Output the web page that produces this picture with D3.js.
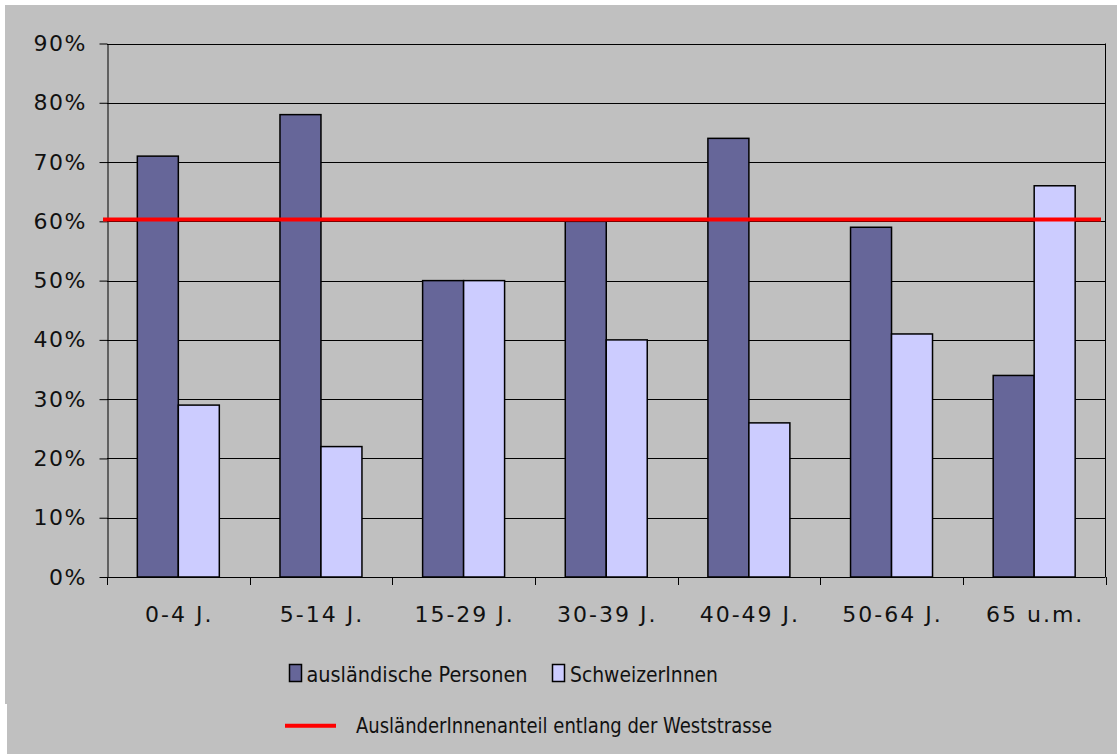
<!DOCTYPE html>
<html>
<head>
<meta charset="utf-8">
<script src="https://cdn.jsdelivr.net/npm/d3@7"></script>
<style>
  body { margin: 0; background: #fff; }
  svg { display: block; font-family: "DejaVu Sans", Verdana, sans-serif; }
</style>
</head>
<body>
<svg id="chart" width="1117" height="754"></svg>
<script>
// age groups
const categories = ["0-4 J.", "5-14 J.", "15-29 J.", "30-39 J.", "40-49 J.", "50-64 J.", "65 u.m."]
// shares in percent
const auslaender = [71, 78, 50, 60, 74, 59, 34]
const schweizer = [29, 22, 50, 40, 26, 41, 66]
const anteilWeststrasse = 60.3
const yTicks = [0, 10, 20, 30, 40, 50, 60, 70, 80, 90]
const seriesNames = ["ausländische Personen", "SchweizerInnen"]
const lineName = "AusländerInnenanteil entlang der Weststrasse"

const colors = ["#666699", "#CCCCFF"]

const svg = d3.select("#chart")

// gray chart area
svg.append("rect")
  .attr("x", 5).attr("y", 5)
  .attr("width", 1112).attr("height", 749)
  .attr("fill", "#C0C0C0")
svg.append("rect")
  .attr("x", 0).attr("y", 704)
  .attr("width", 7).attr("height", 50)
  .attr("fill", "#fff")

const plotLeft = 107, plotRight = 1105.5, plotTop = 43.5, plotBottom = 577

const x = d3.scaleBand()
  .domain(categories)
  .range([plotLeft, plotRight])

const xInner = d3.scaleBand()
  .domain(seriesNames)
  .range([0, x.bandwidth()])
  .paddingOuter(0.74)

const y = d3.scaleLinear()
  .domain([0, 90])
  .range([plotBottom, plotTop])

// grid lines
svg.append("g")
  .selectAll("line")
  .data(yTicks)
  .join("line")
  .attr("x1", plotLeft).attr("x2", plotRight)
  .attr("y1", d => Math.round(y(d)) + 0.5)
  .attr("y2", d => Math.round(y(d)) + 0.5)
  .attr("stroke", "#000")

// right border
svg.append("line")
  .attr("x1", plotRight).attr("x2", plotRight)
  .attr("y1", plotTop).attr("y2", plotBottom)
  .attr("stroke", "#000")

// bars
const rows = categories.map((c, i) => ({ cat: c, values: [auslaender[i], schweizer[i]] }))
const groups = svg.append("g")
  .selectAll("g")
  .data(rows)
  .join("g")
  .attr("transform", d => `translate(${x(d.cat)},0)`)

groups.selectAll("rect")
  .data(d => d.values.map((v, j) => ({ name: seriesNames[j], v: v, j: j })))
  .join("rect")
  .attr("x", d => xInner(d.name))
  .attr("y", d => y(d.v))
  .attr("width", xInner.bandwidth())
  .attr("height", d => y(0) - y(d.v))
  .attr("fill", d => colors[d.j])
  .attr("stroke", "#000")
  .attr("stroke-width", 1.5)

// y axis
const yAxis = svg.append("g")
  .attr("transform", `translate(${plotLeft + 0.5},0)`)
  .call(d3.axisLeft(y)
    .tickValues(yTicks)
    .tickFormat(d => d + "%")
    .tickSize(8)
    .tickPadding(12.5)
    .tickSizeOuter(0))
yAxis.select(".domain").attr("stroke", "#000")
yAxis.selectAll("text")
  .attr("font-size", 22)
  .attr("fill", "#111")
  .style("letter-spacing", "1.5px")
  .style("font-family", "DejaVu Sans")

// x axis labels
const xAxis = svg.append("g")
  .attr("transform", `translate(0,${plotBottom})`)
  .call(d3.axisBottom(x).tickSize(0).tickPadding(29))
xAxis.select(".domain").remove()
xAxis.selectAll("text")
  .attr("font-size", 22)
  .attr("fill", "#111")
  .attr("dx", "1px")
  .style("letter-spacing", "2px")
  .style("font-family", "DejaVu Sans")

// x ticks at category boundaries
svg.append("g")
  .selectAll("line")
  .data(categories.concat([null]))
  .join("line")
  .attr("x1", (d, i) => Math.round(plotLeft + i * x.step()) + 0.5)
  .attr("x2", (d, i) => Math.round(plotLeft + i * x.step()) + 0.5)
  .attr("y1", plotBottom).attr("y2", plotBottom + 8)
  .attr("stroke", "#000")

// red reference line
svg.append("line")
  .attr("x1", 103).attr("x2", 1101)
  .attr("y1", y(anteilWeststrasse)).attr("y2", y(anteilWeststrasse))
  .attr("stroke", "#FF0000")
  .attr("stroke-width", 4)

// legend
const legend = svg.append("g")
const legendItems = [
  { x: 289, tx: 306.5, w: 221, name: seriesNames[0], color: colors[0] },
  { x: 552, tx: 570, w: 148, name: seriesNames[1], color: colors[1] }
]
legend.selectAll("rect")
  .data(legendItems)
  .join("rect")
  .attr("x", d => d.x + 0.5).attr("y", 664.5)
  .attr("width", 12).attr("height", 17)
  .attr("fill", d => d.color)
  .attr("stroke", "#000")
  .attr("stroke-width", 1.5)
legend.selectAll("text.series")
  .data(legendItems)
  .join("text")
  .attr("class", "series")
  .attr("x", d => d.tx).attr("y", 681.7)
  .attr("font-size", 22)
  .attr("fill", "#111")
  .attr("textLength", d => d.w)
  .attr("lengthAdjust", "spacingAndGlyphs")
  .text(d => d.name)

legend.append("line")
  .attr("x1", 285).attr("x2", 336)
  .attr("y1", 725.7).attr("y2", 725.7)
  .attr("stroke", "#FF0000")
  .attr("stroke-width", 4)
legend.append("text")
  .attr("x", 356).attr("y", 733.3)
  .attr("font-size", 22)
  .attr("fill", "#111")
  .attr("textLength", 416)
  .attr("lengthAdjust", "spacingAndGlyphs")
  .text(lineName)
</script>
</body>
</html>
